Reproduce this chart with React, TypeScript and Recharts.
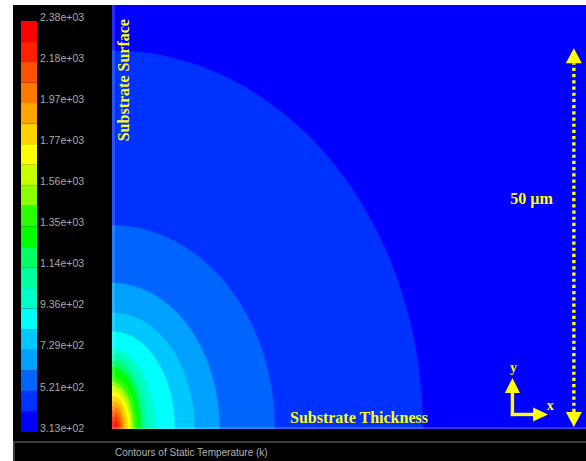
import React from 'react';
import { ComposedChart, XAxis, YAxis, ReferenceArea, ReferenceLine, ReferenceDot } from 'recharts';

// legend (static temperature, K)
const bandEdges = [313, 416, 520, 624, 727, 831, 935, 1038, 1142, 1245, 1349, 1452, 1556, 1659, 1763, 1866, 1970, 2073, 2177, 2280, 2383];
const legendTicks = [313, 520, 727, 935, 1142, 1349, 1556, 1763, 1970, 2177, 2383];
const legendLabels = ['3.13e+02', '5.21e+02', '7.29e+02', '9.36e+02', '1.14e+03', '1.35e+03', '1.56e+03', '1.77e+03', '1.97e+03', '2.18e+03', '2.38e+03'];
const bandColors = [
  '#0000ff', '#0032ff', '#0064ff', '#00a0ff', '#00c8ff',
  '#00ffff', '#00ffc8', '#00ffa0', '#00ff64', '#00ff00',
  '#28ff00', '#8cff00', '#c8ff00', '#ffff00', '#ffd200',
  '#ffa500', '#ff7800', '#ff5000', '#ff2000', '#ff0000',
];

// contour boundaries (band index, semi-axes in um from the heated corner)
const contourBand = [1, 2, 3, 4, 5, 6, 7, 8, 9, 10, 11, 12, 13, 14, 15, 16, 17, 18, 19];
const contourRx = [41.0, 21.5, 14.2, 10.9, 8.3, 5.7, 4.6, 4.1, 3.7, 3.3, 2.9, 2.6, 2.4, 2.1, 1.7, 1.5, 1.2, 0.9, 0.5];
const contourRy = [50.0, 26.9, 19.3, 15.4, 12.9, 10.6, 9.8, 9.0, 8.2, 7.1, 6.3, 5.7, 5.0, 4.4, 3.7, 3.0, 2.4, 1.7, 1.1];

const X_MAX = 62.5;
const Y_MAX = 56;
const YELLOW = '#ffff00';

const contours = contourBand.map((band, i) => ({ band, rx: contourRx[i], ry: contourRy[i] }));

const QuarterEllipse = (props: any) => {
  const { x, y, width, height, fill } = props;
  const d = `M${x},${y + height} L${x},${y} A${width},${height} 0 0 1 ${x + width},${y + height} Z`;
  return <path d={d} fill={fill} stroke="none" />;
};

const arrowShape = (heads: 'both' | 'end', dashed: boolean, w: number, len: number, half: number) => (props: any) => {
  const { x1, y1, x2, y2 } = props;
  const dx = x2 - x1;
  const dy = y2 - y1;
  const l = Math.sqrt(dx * dx + dy * dy) || 1;
  const ux = dx / l;
  const uy = dy / l;
  const head = (tx: number, ty: number, sx: number, sy: number) => {
    const bx = tx - sx * len;
    const by = ty - sy * len;
    return `M${tx},${ty} L${bx - sy * half},${by + sx * half} L${bx + sy * half},${by - sx * half} Z`;
  };
  const sx1 = heads === 'both' ? x1 + ux * len : x1;
  const sy1 = heads === 'both' ? y1 + uy * len : y1;
  return (
    <g>
      <line
        x1={sx1}
        y1={sy1}
        x2={x2 - ux * len}
        y2={y2 - uy * len}
        stroke={YELLOW}
        strokeWidth={w}
        strokeDasharray={dashed ? '3.2 3' : undefined}
        strokeLinecap={dashed ? 'butt' : 'square'}
      />
      <path d={head(x2, y2, ux, uy)} fill={YELLOW} />
      {heads === 'both' && <path d={head(x1, y1, -ux, -uy)} fill={YELLOW} />}
    </g>
  );
};

const textShape = (text: string, size: number, anchor: string, rotate = 0) => (props: any) => {
  const { cx, cy } = props;
  return (
    <text
      x={cx}
      y={cy}
      fill={YELLOW}
      fontFamily="'Liberation Serif', 'Times New Roman', serif"
      fontWeight="bold"
      fontSize={size}
      textAnchor={anchor}
      transform={rotate ? `rotate(${rotate}, ${cx}, ${cy})` : undefined}
    >
      {text}
    </text>
  );
};

const LegendTick = (props: any) => {
  const { x, y, index } = props;
  return (
    <text x={x + 3} y={y - 4} dy="0.35em" fill="#a8a8a8" fontSize={10.5} fontFamily="'Liberation Sans', Arial, sans-serif">
      {legendLabels[index]}
    </text>
  );
};

export default function App() {
  return (
    <div style={{ position: 'absolute', left: 0, top: 0, width: 586, height: 461, background: '#fff', overflow: 'hidden' }}>
      <div style={{ position: 'absolute', left: 13, top: 5, width: 573, height: 456, background: '#000' }} />

      {/* colour legend */}
      <div style={{ position: 'absolute', left: 13, top: 5 }}>
        <ComposedChart width={99} height={456} data={legendTicks.map((t) => ({ t }))} margin={{ top: 16, right: 0, bottom: 29, left: 8 }}>
          <XAxis type="number" dataKey="t" hide domain={[0, 1]} allowDataOverflow />
          <YAxis
            type="number"
            orientation="right"
            width={75}
            domain={[313, 2383]}
            ticks={legendTicks}
            interval={0}
            tickSize={0}
            tickMargin={0}
            axisLine={false}
            tickLine={false}
            tick={<LegendTick />}
            allowDataOverflow
          />
          {bandColors.map((c, i) => (
            <ReferenceArea key={i} x1={0} x2={1} y1={bandEdges[i]} y2={bandEdges[i + 1]} fill={c} fillOpacity={1} stroke="none" />
          ))}
        </ComposedChart>
      </div>

      {/* temperature field */}
      <div style={{ position: 'absolute', left: 112, top: 5 }}>
        <ComposedChart width={474} height={424} data={contours} margin={{ top: 0, right: 0, bottom: 0, left: 0 }}>
          <XAxis type="number" dataKey="rx" hide domain={[0, X_MAX]} allowDataOverflow />
          <YAxis type="number" dataKey="ry" hide domain={[0, Y_MAX]} allowDataOverflow />
          <ReferenceArea x1={0} x2={X_MAX} y1={0} y2={Y_MAX} fill={bandColors[0]} fillOpacity={1} stroke="none" />
          {contours.map((c) => (
            <ReferenceArea
              key={c.band}
              x1={0}
              x2={c.rx}
              y1={0}
              y2={c.ry}
              fill={bandColors[c.band]}
              shape={QuarterEllipse}
            />
          ))}
          {/* domain edges */}
          <ReferenceArea x1={0} x2={0.4} y1={0} y2={Y_MAX} fill="#ffffff" fillOpacity={0.16} stroke="none" />
          <ReferenceArea x1={0} x2={X_MAX} y1={0} y2={0.26} fill="#ffffff" fillOpacity={0.2} stroke="none" />

          <ReferenceLine
            segment={[{ x: 60.9, y: 0.26 }, { x: 60.9, y: 50.3 }]}
            shape={arrowShape('both', true, 3.4, 15, 8)}
          />
          <ReferenceLine
            segment={[{ x: 52.8, y: 1.92 }, { x: 52.8, y: 6.74 }]}
            shape={arrowShape('end', false, 3.4, 15, 7.5)}
          />
          <ReferenceLine
            segment={[{ x: 52.8, y: 1.92 }, { x: 57.5, y: 1.92 }]}
            shape={arrowShape('end', false, 3.4, 15, 7)}
          />

          <ReferenceDot x={23.47} y={0.79} r={0} shape={textShape('Substrate Thickness', 16, 'start')} />
          <ReferenceDot x={2.24} y={38.0} r={0} shape={textShape('Substrate Surface', 16, 'start', -90)} />
          <ReferenceDot x={52.5} y={29.7} r={0} shape={textShape('50 \u00b5m', 16, 'start')} />
          <ReferenceDot x={52.94} y={7.53} r={0} shape={textShape('y', 14, 'middle')} />
          <ReferenceDot x={57.8} y={2.51} r={0} shape={textShape('x', 14, 'middle')} />
        </ComposedChart>
      </div>

      <div style={{ position: 'absolute', left: 13, top: 441, width: 573, height: 2, background: '#3c3c3c' }} />
      <div style={{ position: 'absolute', left: 13, top: 441, width: 2, height: 20, background: '#3c3c3c' }} />
      <div
        style={{
          position: 'absolute',
          left: 115,
          top: 447,
          fontFamily: "'Liberation Sans', Arial, sans-serif",
          fontSize: 10,
          lineHeight: '12px',
          color: '#b0b0b0',
          whiteSpace: 'nowrap',
        }}
      >
        Contours of Static Temperature (k)
      </div>
    </div>
  );
}
